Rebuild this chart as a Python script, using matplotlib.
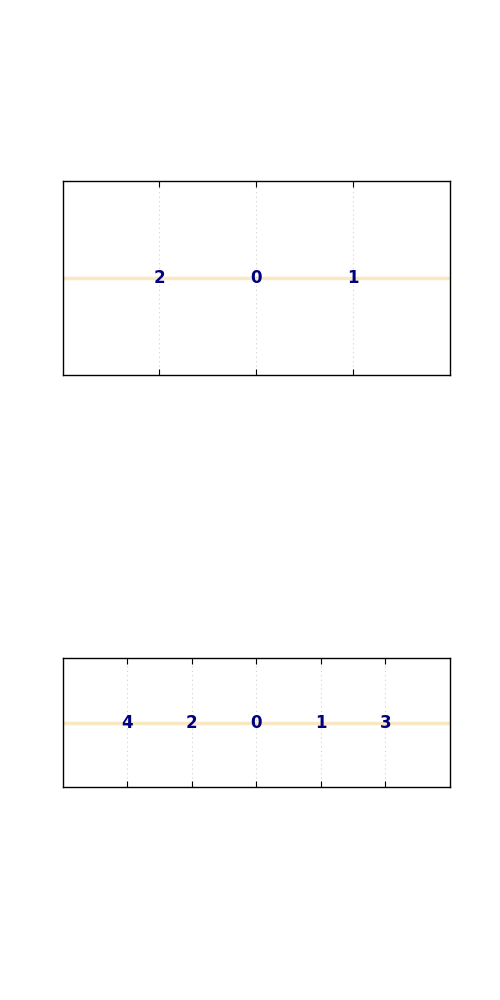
import matplotlib
matplotlib.use("Agg")
import matplotlib.pyplot as plt

# node order for each row, laid out left to right
top_labels = ["2", "0", "1"]
top_positions = [-1, 0, 1]
bottom_labels = ["4", "2", "0", "1", "3"]
bottom_positions = [-2, -1, 0, 1, 2]

fig = plt.figure(figsize=(5, 10), dpi=100)

rows = [
    (top_labels, top_positions, [0.125, 0.625, 0.775, 0.194], 2),
    (bottom_labels, bottom_positions, [0.125, 0.213, 0.775, 0.129], 3),
]

for labels, positions, rect, half in rows:
    ax = fig.add_axes(rect)
    ax.set_xlim(-half, half)
    ax.set_ylim(-1, 1)
    ax.axhline(0, color="#fae8c4", linewidth=2.5, zorder=1)
    for lab, x in zip(labels, positions):
        ax.text(x, 0, lab, ha="center", va="center", color="navy",
                fontsize=12, fontweight="bold", zorder=3)
    ax.set_xticks(positions)
    ax.set_yticks([])
    ax.tick_params(axis="x", direction="in", top=True, bottom=True,
                   labelbottom=False, length=4, color="black")
    ax.grid(True, axis="x", linestyle=(0, (1, 3)), color="#d0d0d0", linewidth=0.8)
    for s in ax.spines.values():
        s.set_linewidth(1.0)

fig.savefig("out.png", dpi=100)
